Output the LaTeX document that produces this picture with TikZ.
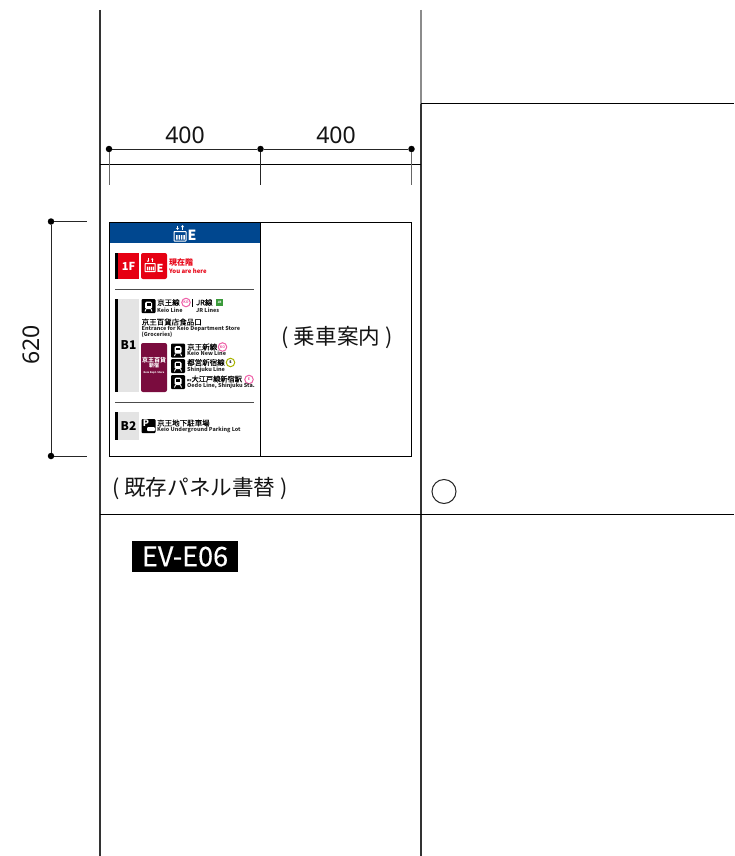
\documentclass[tikz,border=0pt]{standalone}
\usepackage{fontspec}
\setmainfont{Noto Sans}
\newfontfamily\cjk{Noto Sans CJK JP}
\newfontfamily\cjkmed[FakeBold=0.35]{Noto Sans CJK JP}
\usetikzlibrary{positioning}
\definecolor{signblue}{HTML}{00478F}
\definecolor{signred}{HTML}{E60012}
\definecolor{signgrey}{HTML}{E4E4E4}
\definecolor{signmaroon}{HTML}{7A0C3E}
\definecolor{signpink}{HTML}{EE5FA7}
\definecolor{signlime}{HTML}{A8B400}
\definecolor{signgreen}{HTML}{3A9A3A}
\definecolor{wall}{HTML}{333333}
\newcommand{\jp}[1]{\fontsize{#1}{#1}\selectfont\cjk}
\newcommand{\jpm}[1]{\fontsize{#1}{#1}\selectfont\cjkmed}
\begin{document}
\begin{tikzpicture}[
        x=1pt, y=-1pt,
        wallline/.style={wall, line width=1.5pt},
        floorline/.style={black, line width=1pt},
        dimline/.style={black!85, line width=1pt},
        dimdot/.style={circle, fill=black, inner sep=0pt, minimum size=6.5pt},
        dimtext/.style={font=\fontsize{23}{23}\selectfont, text=black!92, inner sep=0pt},
        note/.style={font=\jp{21.6}, text=black!92, inner sep=0pt},
        signrule/.style={black!70, line width=0.8pt},
        strip/.style={fill=black, draw=none},
        floorlabel/.style={font=\jp{12}\bfseries, inner sep=0pt},
        jpname/.style={anchor=west, inner sep=0pt, font=\jpm{7.5}},
        enname/.style={anchor=west, inner sep=0pt, font=\jp{5.45}\bfseries, text=black!85},
        badge/.style={circle, draw=#1, fill=white, line width=1pt, inner sep=0pt, minimum size=8.5pt, font=\jp{3.5}\bfseries, text=#1},
        pics/trainicon/.style={code={
                \fill[black, rounded corners=1pt] (0,0) rectangle (14,14);
                \fill[white, rounded corners=1.5pt] (3.5,2.5) rectangle (10.5,10);
                \fill[black] (5,4) rectangle (9,6.5);
                \draw[white, line width=0.9pt] (4.5,10) -- (3.5,12.5) (9.5,10) -- (10.5,12.5);
            }},
        pics/lifticon/.style={code={
                \draw[#1, line width=1pt, rounded corners=0.5pt] (0,6.5) rectangle (12,16);
                \fill[#1] (2.2,10) rectangle (3.6,14.5) (4.6,10) rectangle (6,14.5) (7,10) rectangle (8.4,14.5) (9.4,10) rectangle (10.8,14.5);
                \draw[#1, line width=0.8pt] (3.5,0.5) -- (3.5,4) (8.5,1) -- (8.5,4.5);
                \fill[#1] (2,3) -- (5,3) -- (3.5,5) -- cycle (7,2) -- (10,2) -- (8.5,0) -- cycle;
            }},
    ]
    \useasboundingbox (0,0) rectangle (734,856);

    % walls and floors
    \draw[black!45, line width=1.5pt] (421,10) -- (421,104);
    \draw[wallline] (421,104) -- (421,856);
    \draw[wallline] (100,10) -- (100,856);
    \draw[floorline] (100,164) -- (421,164);
    \draw[floorline] (421,104) -- (734,104);
    \draw[floorline] (100,514.5) -- (734,514.5);

    % dimensions on top
    \node[dimdot] (dim_a) at (109,149) {};
    \node[dimdot] (dim_b) at (260.5,149) {};
    \node[dimdot] (dim_c) at (411.5,149) {};
    \coordinate (foot_a) at (109,185);
    \coordinate (foot_b) at (260.5,185);
    \coordinate (foot_c) at (411.5,185);
    \draw[dimline] (dim_a) -- (dim_b);
    \draw[dimline] (dim_b) -- (dim_c);
    \draw[black!60, line width=1pt] (dim_a) -- (foot_a);
    \draw[dimline] (dim_b) -- (foot_b);
    \draw[black!60, line width=1pt] (dim_c) -- (foot_c);
    \node[dimtext] (width_a) at (185,135) {400};
    \node[dimtext] (width_b) at (336,135) {400};

    % dimension on the left
    \node[dimdot] (dim_top) at (51,221.5) {};
    \node[dimdot] (dim_bot) at (51,456) {};
    \coordinate (end_top) at (87,221.5);
    \coordinate (end_bot) at (87,456);
    \draw[dimline] (dim_top) -- (dim_bot);
    \draw[dimline] (dim_top) -- (end_top);
    \draw[dimline] (dim_bot) -- (end_bot);
    \node[dimtext, rotate=90] (height_a) at (31,345) {620};

    % panel
    \fill[signblue] (109,222) rectangle (260.5,243);
    \draw[black, line width=1pt] (109,222) rectangle (411.5,456.5);
    \draw[black, line width=1pt] (260.5,222) -- (260.5,456.5);
    \pic at (174,225) {lifticon=white};
    \node[inner sep=0pt, text=white, font=\jp{14}\bfseries] (head_e) at (192,235) {E};
    \node[note] (guide) at (337,338) {( 乗車案内 )};

    % 1F
    \fill[signred] (118,253) rectangle (139,279);
    \fill[strip] (115,253) rectangle (118,279);
    \node[floorlabel, text=white, font=\jp{11}\bfseries] (floor_1f) at (128.5,266) {1F};
    \fill[signred, rounded corners=2pt] (141,253) rectangle (167,279);
    \pic[scale=0.85] at (145,258) {lifticon=white};
    \node[inner sep=0pt, text=white, font=\jp{11}\bfseries] (here_e) at (160,268) {E};
    \node[jpname, text=signred, font=\jp{8}\bfseries] (here_jp) at (169,262.5) {現在階};
    \node[enname, text=signred, font=\jp{6}\bfseries] (here_en) at (169,271.5) {You are here};
    \draw[signrule] (115,289.5) -- (254,289.5);

    % B1
    \fill[signgrey] (118,299) rectangle (139,392);
    \fill[strip] (115,299) rectangle (118,392);
    \node[floorlabel] (floor_b1) at (128.5,345) {B1};
    \pic at (141.5,299) {trainicon};
    \node[jpname] (keio_jp) at (157,302.5) {京王線};
    \node[badge=signpink] (keio_ko) at (186,302.5) {KO};
    \draw[black, line width=0.8pt] (192,299) -- (192,307);
    \node[jpname] (jr_jp) at (196,302.5) {JR線};
    \node[fill=signgreen, minimum size=7pt, inner sep=0pt, text=white, font=\jp{3}\bfseries] (jr_mark) at (219.5,302.5) {JR};
    \node[enname] (keio_en) at (157,310.5) {Keio Line};
    \node[enname] (jr_en) at (196,310.5) {JR Lines};
    \node[jpname] (store_jp) at (141.5,322) {京王百貨店食品口};
    \node[enname] (store_en) at (141.5,329) {Entrance for Keio Department Store};
    \node[enname] (store_ex) at (141.5,335) {(Groceries)};
    \fill[signmaroon, rounded corners=2pt] (141,343) rectangle (167,392);
    \node[inner sep=0pt, text=white, align=center, font=\jp{6}\bfseries] (store_mark) at (154,362.5) {京王百貨\\[-1pt]{\jp{5}\bfseries 新宿}};
    \node[inner sep=0pt, text=white, font=\jp{2.5}\bfseries] (store_mark_en) at (154,373) {Keio Dept. Store};
    \pic at (171,343.5) {trainicon};
    \node[jpname] (new_jp) at (187,347) {京王新線};
    \node[badge=signpink] (new_ko) at (222.5,347) {KO};
    \node[enname] (new_en) at (187,353.5) {Keio New Line};
    \pic at (171,359) {trainicon};
    \node[jpname] (toei_jp) at (187,362.5) {都営新宿線};
    \node[badge=signlime, text=black] (toei_s) at (230.5,362.5) {S};
    \node[enname] (toei_en) at (187,369.5) {Shinjuku Line};
    \pic at (171,375) {trainicon};
    \node[jpname, font=\jpm{7.2}] (oedo_jp) at (187,379) {{\jp{2.2}\bfseries 都営}大江戸線新宿駅};
    \node[badge=signpink] (oedo_e) at (249,379.5) {E};
    \node[enname] (oedo_en) at (187,385.5) {Oedo Line, Shinjuku Sta.};
    \draw[signrule] (115,402) -- (254,402);

    % B2
    \fill[signgrey] (118,412) rectangle (139,440);
    \fill[strip] (115,412) rectangle (118,440);
    \node[floorlabel] (floor_b2) at (128.5,426.5) {B2};
    \fill[black, rounded corners=1pt] (141.5,419) rectangle (155.5,433);
    \node[inner sep=0pt, text=white, font=\jp{9}\bfseries] (park_p) at (146,423.5) {P};
    \fill[white, rounded corners=1pt] (147,427) rectangle (155,431);
    \node[jpname] (park_jp) at (157,423) {京王地下駐車場};
    \node[enname] (park_en) at (157,429.5) {Keio Underground Parking Lot};

    % below the panel
    \node[note, anchor=west] (rewrite) at (112,489) {( 既存パネル書替 )};
    \node[draw=black!85, line width=1pt, circle, minimum size=24pt, inner sep=0pt] (mark) at (444,491.5) {};
    \node[fill=black, text=white, minimum width=106pt, minimum height=31pt, inner sep=0pt, font=\jpm{27}] (ev_id) at (185,556.5) {EV-E06};
\end{tikzpicture}
\end{document}
